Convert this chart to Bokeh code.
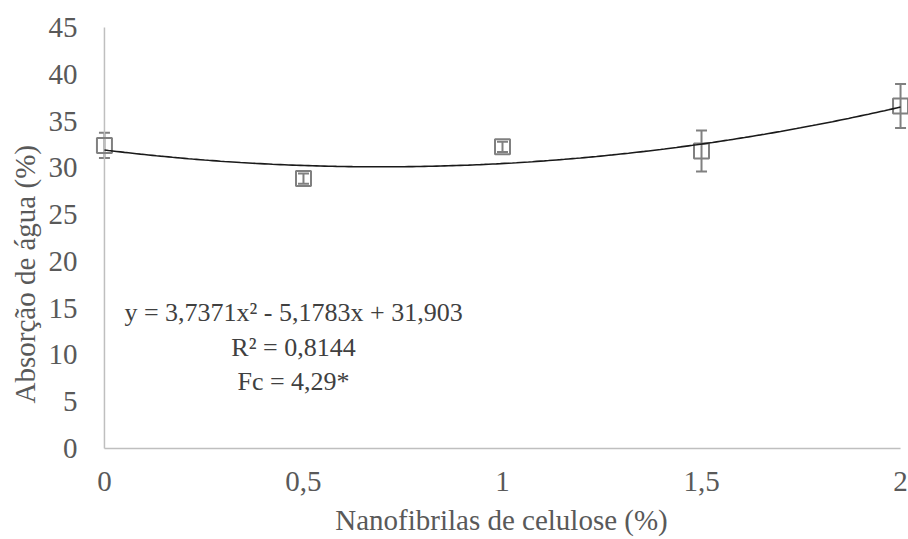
import numpy as np
from bokeh.plotting import figure
from bokeh.models import ColumnDataSource, Whisker, TeeHead, FixedTicker, Label, Title
from bokeh.embed import file_html
from bokeh.resources import INLINE

# Data
nanofibrilas = [0, 0.5, 1, 1.5, 2]
absorcao = [32.4, 28.85, 32.25, 31.8, 36.6]
erro = [1.35, 0.55, 0.55, 2.2, 2.35]
x_ticks = [0, 0.5, 1, 1.5, 2]
x_tick_labels = ["0", "0,5", "1", "1,5", "2"]
y_ticks = [0, 5, 10, 15, 20, 25, 30, 35, 40, 45]
# Trendline coefficients shown on the chart (a x^2 + b x + c)
coef = [3.7371, -5.1783, 31.903]
eq_lines = ["y = 3,7371x\u00b2 - 5,1783x + 31,903", "R\u00b2 = 0,8144", "Fc = 4,29*"]

FONT = "Liberation Serif"
GRAY_TXT = "#595959"
AXIS_GRAY = "#bfbfbf"
MARK_GRAY = "#808080"

p = figure(width=908, height=539, output_backend="svg", toolbar_location=None,
           x_range=(-0.025, 2.02), y_range=(-0.32, 45.32),
           min_border_left=94, min_border_right=0, min_border_top=24, min_border_bottom=88)
p.outline_line_color = None
p.grid.visible = False
p.background_fill_color = "white"
p.border_fill_color = "white"

# axes lines drawn from 0..2 and 0..45
p.segment(x0=[0], y0=[0], x1=[2], y1=[0], line_color=AXIS_GRAY, line_width=1.5)
p.segment(x0=[0], y0=[0], x1=[0], y1=[45], line_color=AXIS_GRAY, line_width=1.5)

src = ColumnDataSource(dict(
    x=nanofibrilas, y=absorcao,
    upper=[a + e for a, e in zip(absorcao, erro)],
    lower=[a - e for a, e in zip(absorcao, erro)],
))

w = Whisker(source=src, base="x", upper="upper", lower="lower",
            line_color=MARK_GRAY, line_width=2,
            upper_head=TeeHead(size=11, line_color=MARK_GRAY, line_width=2),
            lower_head=TeeHead(size=11, line_color=MARK_GRAY, line_width=2))
p.add_layout(w)

p.scatter("x", "y", source=src, marker="square", size=15, fill_color=None,
          line_color=MARK_GRAY, line_width=2)

xs = np.linspace(0, 2, 200)
ys = coef[0] * xs ** 2 + coef[1] * xs + coef[2]
p.line(xs, ys, line_color="#1a1a1a", line_width=1.6)

# equation text
for txt, yy in zip(eq_lines, [14.5, 10.75, 7.2]):
    p.add_layout(Label(x=0.475, y=yy, text=txt, text_align="center", text_baseline="middle",
                       text_font=FONT, text_font_size="26px", text_color="#404040"))

# y axis title as a left title so it can be offset along the axis
ytitle = Title(text="Absorção de água (%)", align="left", offset=48,
               text_font=FONT, text_font_size="29px", text_color=GRAY_TXT,
               text_font_style="normal", standoff=10)
p.add_layout(ytitle, "left")

# axes styling
for ax in (p.xaxis[0], p.yaxis[0]):
    ax.axis_line_color = None
    ax.major_tick_line_color = None
    ax.minor_tick_line_color = None
    ax.major_tick_out = 0
    ax.major_tick_in = 0
    ax.major_label_text_font = FONT
    ax.major_label_text_font_size = "29px"
    ax.major_label_text_color = GRAY_TXT
    ax.axis_label_text_font = FONT
    ax.axis_label_text_font_size = "29px"
    ax.axis_label_text_color = GRAY_TXT
    ax.axis_label_text_font_style = "normal"

p.xaxis.ticker = FixedTicker(ticks=x_ticks)
p.xaxis.major_label_overrides = {t: l for t, l in zip(x_ticks, x_tick_labels)}
p.xaxis.major_label_standoff = 20
p.xaxis.axis_label = "Nanofibrilas de celulose (%)"
p.xaxis.axis_label_standoff = 10

p.yaxis.ticker = FixedTicker(ticks=y_ticks)
p.yaxis.major_label_standoff = 17

open("out.html", "w").write(file_html(p, INLINE))
